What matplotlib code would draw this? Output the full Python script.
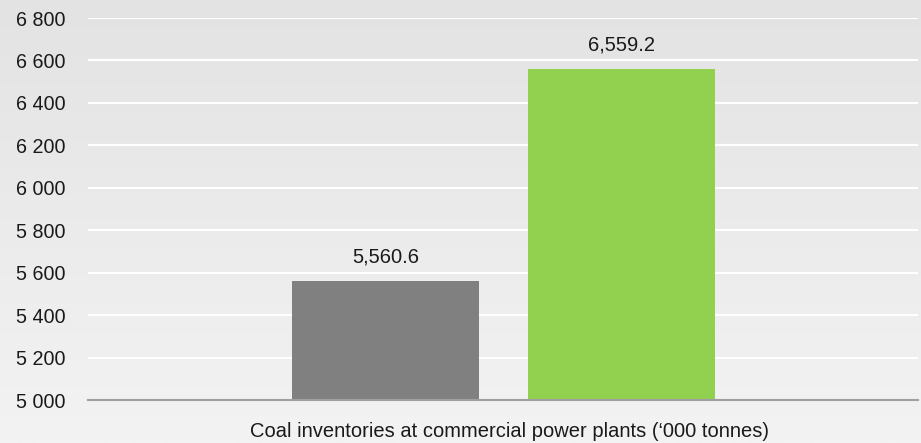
import numpy as np
import matplotlib.pyplot as plt

plt.rcParams['font.family'] = ['Liberation Sans', 'DejaVu Sans']

category = "Coal inventories at commercial power plants (\u2018000 tonnes)"
values = [5560.6, 6559.2]
colors = ['#808080', '#92d050']
yticks = [5000, 5200, 5400, 5600, 5800, 6000, 6200, 6400, 6600, 6800]

fig = plt.figure(figsize=(9.21, 4.43), dpi=100)

# soft vertical gradient behind everything
bg = fig.add_axes([0, 0, 1, 1], zorder=-1)
grad = np.linspace(0, 1, 256).reshape(-1, 1)
bg.imshow(grad, aspect='auto', cmap=plt.matplotlib.colors.LinearSegmentedColormap.from_list(
    'bg', ['#e3e3e3', '#f3f3f3']), extent=[0, 1, 0, 1], origin='upper')
bg.axis('off')

ax = fig.add_axes([88 / 921, 43 / 443, 830 / 921, 382 / 443])
ax.patch.set_alpha(0)

offsets = [-0.1416, 0.1428]
width = 0.2253
for off, v, c in zip(offsets, values, colors):
    ax.bar(off, v - 5000, bottom=5000, width=width, color=c, zorder=3)
    ax.text(off, v + 70, f"{v:,.1f}", ha='center', va='bottom', fontsize=14.5, color='#1a1a1a')

ax.set_xlim(-0.5, 0.5)
ax.set_ylim(5000, 6800)
ax.set_yticks(yticks)
ax.set_yticklabels([f"{t:,}".replace(',', ' ') for t in yticks], fontsize=14.2, color='#1a1a1a')
ax.set_xticks([0.008])
ax.set_xticklabels([category], fontsize=14.5, color='#1a1a1a')
ax.tick_params(length=0)
ax.tick_params(axis='y', pad=16)
ax.tick_params(axis='x', pad=16)

ax.grid(axis='y', color='white', linewidth=1.5, zorder=0)
for s in ['top', 'right', 'left']:
    ax.spines[s].set_visible(False)
ax.spines['bottom'].set_color('#a0a0a0')
ax.spines['bottom'].set_linewidth(1.5)
ax.spines['bottom'].set_zorder(4)

fig.savefig('out.png', dpi=100)
